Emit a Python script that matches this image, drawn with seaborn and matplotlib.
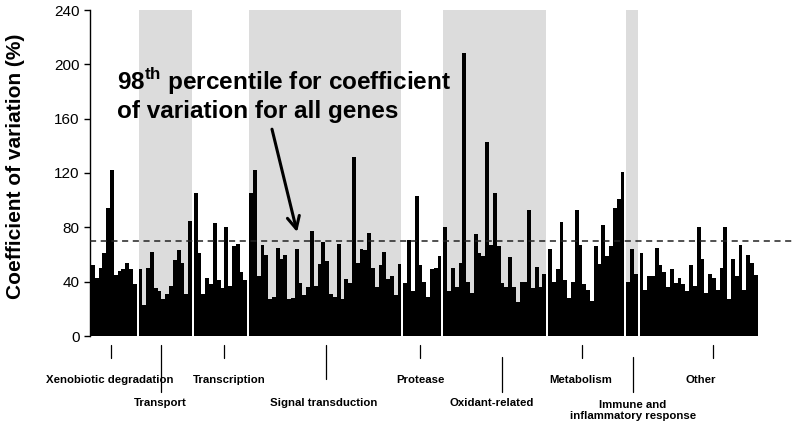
import matplotlib
matplotlib.use("Agg")
import pandas as pd
import matplotlib.pyplot as plt
import seaborn as sns
from matplotlib import font_manager

# ===============================
# Data (coefficient of variation, %)
# ===============================

xenobiotic = [52, 43, 50, 61, 94, 122, 45, 48, 49, 54, 49, 38]
transport = [49, 23, 50, 62, 35, 33, 27, 31, 37, 56, 63, 54, 31, 85]
transcription = [105, 61, 31, 43, 38, 83, 41, 35, 80, 37, 66, 68, 47, 41]
signal = [105, 122, 44, 67, 60, 27, 29, 65, 57, 60, 27, 28, 64, 39, 30, 36,
          77, 37, 53, 69, 55, 31, 29, 68, 27, 42, 39, 132, 54, 64, 63, 76,
          50, 36, 52, 62, 42, 44, 30, 53]
protease = [39, 71, 33, 103, 52, 40, 29, 49, 50, 59]
oxidant = [80, 33, 50, 36, 54, 208, 40, 32, 75, 61, 59, 143, 67, 105, 66,
           39, 36, 58, 36, 25, 40, 40, 93, 35, 51, 36, 46]
metabolism = [64, 40, 49, 84, 41, 28, 40, 93, 67, 38, 34, 26, 66, 53, 82,
              59, 66, 94, 101, 121]
immune = [40, 64, 46]
other = [61, 34, 44, 44, 65, 52, 47, 36, 49, 39, 43, 38, 33, 52, 37, 80,
         57, 32, 46, 43, 34, 50, 80, 27, 57, 44, 67, 34, 60, 54, 45]

categories = ["Xenobiotic degradation", "Transport", "Transcription",
              "Signal transduction", "Protease", "Oxidant-related",
              "Metabolism", "Immune and\ninflammatory response", "Other"]
groups = [xenobiotic, transport, transcription, signal, protease, oxidant,
          metabolism, immune, other]
shaded = [False, True, False, True, False, True, False, True, False]

percentile_98 = 70

# label layout below the axis (x in bar units)
tick_x = [5.2, 18.4, 34.9, 61.7, 86.4, 107.9, 128.9, 142.3, 163.4]
text_x = [5.0, 18.1, 36.2, 61.2, 86.4, 105.2, 128.6, 142.3, 160.1]
label_row = [1, 2, 1, 2, 1, 2, 1, 2, 1]

# ===============================
# Build table of bar positions
# ===============================

gap = 0.5
rows = []
spans = []
start = 0.0
for g, vals in enumerate(groups):
    for i, v in enumerate(vals):
        rows.append({"pos": start + i + 0.5, "cv": v, "group": categories[g]})
    spans.append((start, start + len(vals)))
    start += len(vals) + gap
df = pd.DataFrame(rows)

# ===============================
# Plot
# ===============================

sns.set_style("ticks")
plt.rcParams["font.family"] = ["Liberation Sans", "DejaVu Sans"]
plt.rcParams["mathtext.fontset"] = "custom"
plt.rcParams["mathtext.rm"] = "Liberation Sans"
plt.rcParams["mathtext.bf"] = "Liberation Sans:bold"
plt.rcParams["text.color"] = "black"
plt.rcParams["axes.labelcolor"] = "black"
plt.rcParams["ytick.color"] = "black"

names = {f.name for f in font_manager.fontManager.ttflist}
if "Liberation Sans Narrow" in names:
    cat_font = ["Liberation Sans Narrow", "DejaVu Sans"]
    cat_size = 9.5
else:
    cat_font = ["Liberation Sans", "DejaVu Sans"]
    cat_size = 8.2

fig = plt.figure(figsize=(8, 4.26), dpi=100)
ax = fig.add_axes([90 / 800, 1 - 336 / 426, 705 / 800, 326 / 426])

for (s, e), sh in zip(spans, shaded):
    if sh:
        ax.axvspan(s, e, color="#dcdcdc", lw=0, zorder=0)

sns.barplot(data=df, x="pos", y="cv", native_scale=True, color="black",
            width=1, saturation=1, linewidth=0, errorbar=None, ax=ax,
            zorder=2)
for p in ax.patches:
    p.set_antialiased(False)

ax.axhline(percentile_98, color="#222222", lw=1.1, ls=(0, (4, 3)), zorder=3)

ax.set_xlim(-0.26, 184.8)
ax.set_ylim(0, 240)
ax.set_yticks(range(0, 241, 40))
ax.set_xticks([])
ax.set_xlabel("")
ax.set_ylabel("Coefficient of variation (%)", fontsize=15, fontweight="bold")
ax.yaxis.set_label_coords(-0.092, 0.52)
ax.tick_params(axis="y", labelsize=11, length=4, width=1, colors="black")
sns.despine(ax=ax, bottom=True)
ax.spines["left"].set_color("black")
ax.spines["left"].set_linewidth(1)
ax.set_facecolor("white")

# annotation for the 98th percentile line
ax.annotate("98$^{\\mathbf{th}}$ percentile for coefficient\nof variation for all genes",
            xy=(54.1, 76.5), xytext=(6.8, 178), textcoords="data",
            ha="left", va="center", fontsize=17.5, fontweight="bold",
            linespacing=1.2,
            arrowprops=dict(arrowstyle="->", lw=2.2, color="black",
                            mutation_scale=22, shrinkA=2, shrinkB=0,
                            relpos=(0.46, 0.0)),
            zorder=4)

# category ticks and labels under the axis
trans = ax.get_xaxis_transform()


def ypix(py):
    return (336 - py) / 326


for k, name in enumerate(categories):
    if name == "Transport":
        y0, y1 = 345, 392
    elif name == "Signal transduction":
        y0, y1 = 345, 379
    elif label_row[k] == 2:
        y0, y1 = 357, 392
    else:
        y0, y1 = 345, 358
    ax.plot([tick_x[k], tick_x[k]], [ypix(y0), ypix(y1)], color="black",
            lw=0.9, transform=trans, clip_on=False)
    ty = 380 if label_row[k] == 1 else 403
    if "\n" in name:
        ty = 410.5
    ax.text(text_x[k], ypix(ty), name, transform=trans, ha="center",
            va="center", fontsize=cat_size, fontweight="bold",
            family=cat_font, linespacing=1.2)

plt.savefig("out.png", dpi=100)
